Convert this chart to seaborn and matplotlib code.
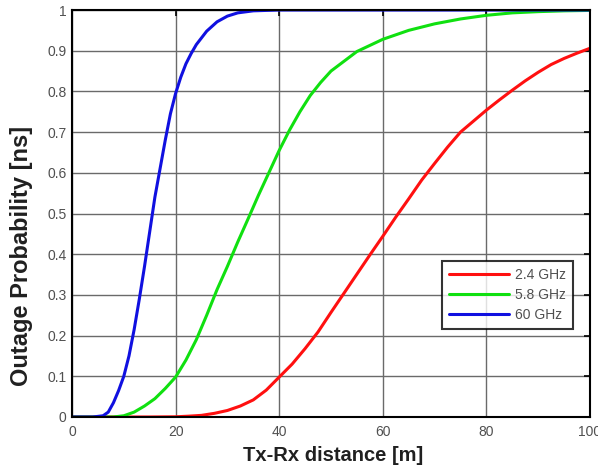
import numpy as np
import pandas as pd
import matplotlib
matplotlib.use("Agg")
import matplotlib.pyplot as plt
import seaborn as sns

# Outage probability versus Tx-Rx distance for three carrier frequencies
dist_60 = [0, 4, 6, 7, 8, 9, 10, 11, 12, 13, 14, 15, 16, 17, 18, 19, 20, 21, 22,
           23, 24, 26, 28, 30, 32, 35, 40, 50, 100]
p_60 = [0, 0, 0.003, 0.012, 0.035, 0.065, 0.10, 0.15, 0.215, 0.29, 0.37, 0.455,
        0.54, 0.61, 0.68, 0.745, 0.795, 0.835, 0.868, 0.893, 0.915, 0.948, 0.971,
        0.985, 0.993, 0.998, 1.0, 1.0, 1.0]

dist_58 = [0, 8, 10, 12, 14, 16, 18, 20, 22, 24, 26, 28, 30, 32, 34, 36, 38, 40,
           42, 44, 46, 48, 50, 55, 60, 65, 70, 75, 80, 85, 90, 95, 100]
p_58 = [0, 0, 0.003, 0.012, 0.027, 0.045, 0.07, 0.098, 0.14, 0.19, 0.25, 0.313,
        0.37, 0.43, 0.487, 0.545, 0.60, 0.655, 0.705, 0.75, 0.79, 0.822, 0.85,
        0.898, 0.928, 0.95, 0.966, 0.978, 0.987, 0.993, 0.996, 0.998, 0.999]

dist_24 = [0, 15, 20, 22.5, 25, 27.5, 30, 32.5, 35, 37.5, 40, 42.5, 45, 47.5, 50,
           52.5, 55, 57.5, 60, 62.5, 65, 67.5, 70, 72.5, 75, 77.5, 80, 82.5, 85,
           87.5, 90, 92.5, 95, 97.5, 100]
p_24 = [0, 0, 0.0005, 0.002, 0.004, 0.009, 0.016, 0.027, 0.042, 0.066, 0.098,
        0.13, 0.168, 0.209, 0.257, 0.304, 0.351, 0.398, 0.444, 0.491, 0.536,
        0.582, 0.623, 0.663, 0.70, 0.727, 0.754, 0.779, 0.803, 0.826, 0.847,
        0.866, 0.881, 0.894, 0.906]

labels = ["2.4 GHz", "5.8 GHz", "60 GHz"]
colors = ["#ff1010", "#10e010", "#1010e0"]
x_ticks = [0, 20, 40, 60, 80, 100]
y_ticks = [0, 0.1, 0.2, 0.3, 0.4, 0.5, 0.6, 0.7, 0.8, 0.9, 1]
y_tick_labels = ["0", "0.1", "0.2", "0.3", "0.4", "0.5", "0.6", "0.7", "0.8", "0.9", "1"]

df = pd.concat([
    pd.DataFrame({"distance": dist_24, "prob": p_24, "band": labels[0]}),
    pd.DataFrame({"distance": dist_58, "prob": p_58, "band": labels[1]}),
    pd.DataFrame({"distance": dist_60, "prob": p_60, "band": labels[2]}),
], ignore_index=True)

sns.set_style("white")
plt.rcParams["font.family"] = ["Liberation Sans", "DejaVu Sans"]

fig = plt.figure(figsize=(5.98, 4.68), dpi=100)
ax = fig.add_axes([0.1204, 0.109, 0.8662, 0.8696])

sns.lineplot(data=df, x="distance", y="prob", hue="band", hue_order=labels,
             palette=colors, linewidth=2.2, ax=ax, sort=True, estimator=None)

ax.set_xlim(0, 100)
ax.set_ylim(0, 1)
ax.set_xticks(x_ticks)
ax.set_xticklabels([str(t) for t in x_ticks])
ax.set_yticks(y_ticks)
ax.set_yticklabels(y_tick_labels)
ax.grid(True, color="#6a6a6a", linewidth=1.0, linestyle="-")
ax.set_axisbelow(True)
ax.tick_params(direction="in", length=4, width=1.2, top=True, right=True,
               labelsize=10, labelcolor="#505050", color="black")
ax.tick_params(axis="x", pad=6)
ax.tick_params(axis="y", pad=4)
for sp in ax.spines.values():
    sp.set_color("black")
    sp.set_linewidth(1.5)

ax.set_xlabel("Tx-Rx distance [m]", fontsize=14.5, fontweight="bold", color="#202020")
ax.xaxis.set_label_coords(0.505, -0.071)
ax.set_ylabel("Outage Probability [ns]", fontsize=17, fontweight="bold", color="#202020")
ax.yaxis.set_label_coords(-0.075, 0.395)

leg = ax.legend(loc="lower right", bbox_to_anchor=(0.967, 0.216), fontsize=10,
                frameon=True, fancybox=False, handlelength=4.3, borderpad=0.5,
                labelspacing=0.45, handletextpad=0.45, borderaxespad=0)
leg.get_frame().set_edgecolor("black")
leg.get_frame().set_linewidth(1.5)
for t in leg.get_texts():
    t.set_color("#505050")
for h in leg.get_lines():
    h.set_linewidth(2.2)

fig.savefig("out.png", dpi=100)
